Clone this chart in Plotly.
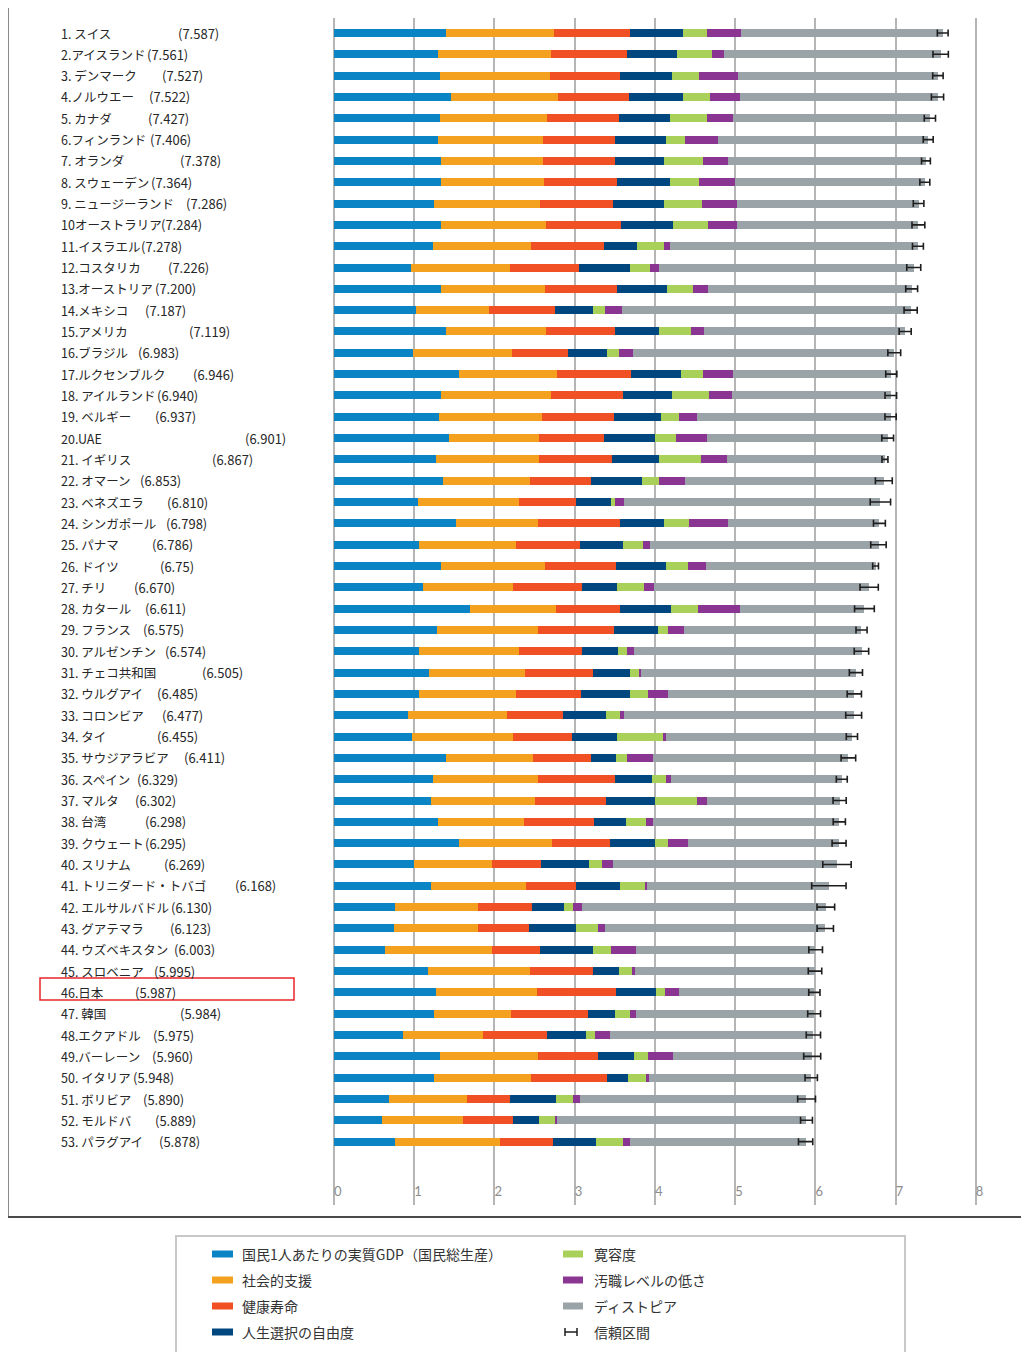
import plotly.graph_objects as go

# ---------------- data ----------------
labels = ["1. スイス", "2.アイスランド", "3. デンマーク", "4.ノルウエー", "5. カナダ",
          "6.フィンランド", "7. オランダ", "8. スウェーデン", "9. ニュージーランド", "10オーストラリア",
          "11.イスラエル", "12.コスタリカ", "13.オーストリア", "14.メキシコ", "15.アメリカ",
          "16.ブラジル", "17.ルクセンブルク", "18. アイルランド", "19. ベルギー", "20.UAE",
          "21. イギリス", "22. オマーン", "23. ベネズエラ", "24. シンガポール", "25. パナマ",
          "26. ドイツ", "27. チリ", "28. カタール", "29. フランス", "30. アルゼンチン",
          "31. チェコ共和国", "32. ウルグアイ", "33. コロンビア", "34. タイ", "35. サウジアラビア",
          "36. スペイン", "37. マルタ", "38. 台湾", "39. クウェート", "40. スリナム",
          "41. トリニダード・トバゴ", "42. エルサルバドル", "43. グアテマラ", "44. ウズベキスタン", "45. スロベニア",
          "46.日本", "47. 韓国", "48.エクアドル", "49.バーレーン", "50. イタリア",
          "51. ボリビア", "52. モルドバ", "53. パラグアイ"]

score_text = ["(7.587)", "(7.561)", "(7.527)", "(7.522)", "(7.427)", "(7.406)", "(7.378)", "(7.364)",
              "(7.286)", "(7.284)", "(7.278)", "(7.226)", "(7.200)", "(7.187)", "(7.119)", "(6.983)",
              "(6.946)", "(6.940)", "(6.937)", "(6.901)", "(6.867)", "(6.853)", "(6.810)", "(6.798)",
              "(6.786)", "(6.75)", "(6.670)", "(6.611)", "(6.575)", "(6.574)", "(6.505)", "(6.485)",
              "(6.477)", "(6.455)", "(6.411)", "(6.329)", "(6.302)", "(6.298)", "(6.295)", "(6.269)",
              "(6.168)", "(6.130)", "(6.123)", "(6.003)", "(5.995)", "(5.987)", "(5.984)", "(5.975)",
              "(5.960)", "(5.948)", "(5.890)", "(5.889)", "(5.878)"]

scores = [7.587, 7.561, 7.527, 7.522, 7.427, 7.406, 7.378, 7.364, 7.286, 7.284, 7.278, 7.226, 7.200,
          7.187, 7.119, 6.983, 6.946, 6.940, 6.937, 6.901, 6.867, 6.853, 6.810, 6.798, 6.786, 6.750,
          6.670, 6.611, 6.575, 6.574, 6.505, 6.485, 6.477, 6.455, 6.411, 6.329, 6.302, 6.298, 6.295,
          6.269, 6.168, 6.130, 6.123, 6.003, 5.995, 5.987, 5.984, 5.975, 5.960, 5.948, 5.890, 5.889, 5.878]

ci = [0.067, 0.096, 0.065, 0.076, 0.070, 0.062, 0.055, 0.062, 0.066, 0.080, 0.068, 0.087, 0.074,
      0.082, 0.075, 0.080, 0.069, 0.072, 0.070, 0.073, 0.037, 0.105, 0.127, 0.074, 0.096, 0.036,
      0.114, 0.123, 0.069, 0.090, 0.082, 0.089, 0.099, 0.070, 0.091, 0.068, 0.082, 0.076, 0.087,
      0.177, 0.214, 0.110, 0.102, 0.085, 0.084, 0.070, 0.080, 0.089, 0.106, 0.077, 0.111, 0.074, 0.089]

gdp = [1.397, 1.302, 1.325, 1.459, 1.326, 1.290, 1.329, 1.332, 1.250, 1.334, 1.229, 0.956, 1.337,
       1.021, 1.395, 0.981, 1.564, 1.336, 1.308, 1.427, 1.266, 1.360, 1.044, 1.522, 1.064, 1.328,
       1.107, 1.690, 1.278, 1.054, 1.179, 1.062, 0.919, 0.967, 1.395, 1.230, 1.207, 1.291, 1.554,
       0.995, 1.212, 0.765, 0.746, 0.632, 1.169, 1.271, 1.245, 0.864, 1.324, 1.251, 0.681, 0.594, 0.760]

social = [1.350, 1.402, 1.361, 1.331, 1.323, 1.318, 1.280, 1.289, 1.320, 1.309, 1.224, 1.238, 1.297,
          0.915, 1.247, 1.233, 1.220, 1.369, 1.286, 1.126, 1.285, 1.082, 1.256, 1.020, 1.199, 1.299,
          1.124, 1.079, 1.260, 1.248, 1.206, 1.209, 1.240, 1.265, 1.084, 1.314, 1.302, 1.076, 1.166,
          0.972, 1.184, 1.025, 1.044, 1.340, 1.270, 1.257, 0.958, 0.999, 1.216, 1.198, 0.978, 1.015, 1.305]

health = [0.941, 0.948, 0.875, 0.885, 0.906, 0.889, 0.893, 0.911, 0.908, 0.932, 0.914, 0.860, 0.890,
          0.814, 0.862, 0.697, 0.919, 0.895, 0.897, 0.809, 0.909, 0.763, 0.721, 1.025, 0.797, 0.892,
          0.859, 0.797, 0.946, 0.787, 0.845, 0.812, 0.691, 0.739, 0.720, 0.956, 0.887, 0.875, 0.725,
          0.608, 0.615, 0.677, 0.644, 0.598, 0.789, 0.991, 0.965, 0.791, 0.747, 0.954, 0.539, 0.618, 0.661]

freedom = [0.666, 0.629, 0.649, 0.670, 0.633, 0.642, 0.616, 0.660, 0.639, 0.651, 0.413, 0.634, 0.624,
           0.482, 0.546, 0.490, 0.616, 0.618, 0.585, 0.642, 0.596, 0.633, 0.429, 0.543, 0.542, 0.615,
           0.441, 0.640, 0.550, 0.450, 0.464, 0.604, 0.535, 0.557, 0.310, 0.460, 0.604, 0.397, 0.555,
           0.597, 0.559, 0.404, 0.577, 0.658, 0.318, 0.496, 0.332, 0.486, 0.455, 0.262, 0.574, 0.328, 0.539]

generosity = [0.297, 0.436, 0.341, 0.347, 0.458, 0.234, 0.476, 0.363, 0.475, 0.436, 0.332, 0.255, 0.331,
              0.141, 0.401, 0.146, 0.280, 0.459, 0.223, 0.264, 0.519, 0.215, 0.058, 0.311, 0.244, 0.282,
              0.334, 0.326, 0.123, 0.115, 0.107, 0.232, 0.184, 0.576, 0.137, 0.182, 0.518, 0.254, 0.162,
              0.170, 0.318, 0.107, 0.275, 0.228, 0.169, 0.107, 0.186, 0.115, 0.174, 0.228, 0.205, 0.210, 0.342]

corruption = [0.420, 0.141, 0.484, 0.365, 0.330, 0.414, 0.318, 0.438, 0.429, 0.356, 0.078, 0.106, 0.187,
              0.213, 0.159, 0.175, 0.378, 0.287, 0.225, 0.386, 0.321, 0.325, 0.111, 0.492, 0.093, 0.218,
              0.129, 0.522, 0.206, 0.085, 0.027, 0.246, 0.051, 0.032, 0.325, 0.064, 0.136, 0.081, 0.256,
              0.136, 0.011, 0.118, 0.095, 0.308, 0.034, 0.181, 0.079, 0.179, 0.306, 0.029, 0.088, 0.016, 0.082]

dystopia = [2.517, 2.702, 2.492, 2.465, 2.452, 2.620, 2.466, 2.371, 2.264, 2.266, 3.089, 3.177, 2.533,
            3.602, 2.510, 3.260, 1.970, 1.976, 2.415, 2.247, 1.970, 2.475, 3.191, 1.885, 2.848, 2.116,
            2.676, 1.557, 2.211, 2.836, 2.678, 2.321, 2.857, 2.319, 2.439, 2.124, 1.649, 2.323, 1.876,
            2.791, 2.269, 3.035, 2.743, 2.237, 2.246, 1.684, 2.220, 2.540, 1.738, 2.025, 2.823, 3.107, 2.189]

series_names = ["国民1人あたりの実質GDP（国民総生産）", "社会的支援", "健康寿命", "人生選択の自由度",
                "寛容度", "汚職レベルの低さ", "ディストピア"]
ci_name = "信頼区間"
x_ticks = [0, 1, 2, 3, 4, 5, 6, 7, 8]

# ---------------- layout / style ----------------
colors = ["#0b84c6", "#f4a11f", "#f05023", "#01477f", "#a9d15a", "#8a3592", "#9aa3a8"]

# horizontal screen position (px) where each score label starts
score_label_left_px = [176, 145, 160, 147, 146, 148, 178, 149, 184, 159, 139, 166, 153, 143, 187, 136,
                       191, 155, 153, 243, 210, 138, 165, 164, 150, 158, 132, 143, 141, 163, 200, 155,
                       160, 155, 182, 135, 133, 143, 143, 162, 233, 169, 168, 172, 152, 133, 178, 151,
                       150, 131, 141, 153, 157]

PAGE_OFF = 8                      # default body margin of the page
SCREEN_W, SCREEN_H = 1029, 1352
FIG_W, FIG_H = SCREEN_W - PAGE_OFF, SCREEN_H - PAGE_OFF
L_S, R_S, T_S, B_S = 330, 1024, 18, 1205      # plot area in screen pixels
W, H = R_S - L_S, B_S - T_S
X_RANGE = [-0.05, 8.6]
ROW0_S, ROW_STEP = 33, 21.32
Y_RANGE = [(B_S - ROW0_S) / ROW_STEP, -(ROW0_S - T_S) / ROW_STEP]

FONT = "Noto Sans CJK JP"
TXT = "#262626"


def px_x(p):
    return (p - L_S) / W


def px_y(p):
    return (B_S - p) / H


series_values = [gdp, social, health, freedom, generosity, corruption, dystopia]

fig = go.Figure()
for name, vals, col in zip(series_names, series_values, colors):
    fig.add_trace(go.Bar(
        x=vals, y=labels, orientation="h", name=name,
        marker=dict(color=col, line=dict(width=0)),
        showlegend=False,
    ))

fig.add_trace(go.Scatter(
    x=scores, y=labels, mode="markers", name=ci_name,
    marker=dict(size=2, color="rgba(0,0,0,0)"),
    error_x=dict(type="data", array=ci, symmetric=True, color="#1e1e1e", thickness=1.6, width=3.5),
    showlegend=False,
))

annotations = []
for lab, st, sx in zip(labels, score_text, score_label_left_px):
    annotations.append(dict(x=px_x(59), y=lab, xref="paper", yref="y", text=lab, showarrow=False,
                            xanchor="left", yanchor="middle", font=dict(family=FONT, size=12.5, color=TXT)))
    annotations.append(dict(x=px_x(sx), y=lab, xref="paper", yref="y", text=st, showarrow=False,
                            xanchor="left", yanchor="middle", font=dict(family=FONT, size=13, color=TXT)))

shapes = []
# outer frame
shapes.append(dict(type="line", xref="paper", yref="paper", x0=px_x(8.5), x1=px_x(8.5), y0=px_y(8), y1=px_y(1217),
                   line=dict(color="#8a8a8a", width=1)))
shapes.append(dict(type="line", xref="paper", yref="paper", x0=px_x(8), x1=px_x(1029), y0=px_y(1217), y1=px_y(1217),
                   line=dict(color="#4a4a4a", width=2)))
# highlight around Japan
jp = labels.index("46.日本")
shapes.append(dict(type="rect", xref="paper", yref="y", x0=px_x(40), x1=px_x(294), y0=jp - 0.68, y1=jp + 0.36,
                   line=dict(color="#e8262a", width=1.5), fillcolor="rgba(0,0,0,0)"))

# legend box
shapes.append(dict(type="rect", xref="paper", yref="paper", x0=px_x(176), x1=px_x(905), y0=px_y(1236), y1=px_y(1370),
                   line=dict(color="#c8c8c8", width=2), fillcolor="rgba(0,0,0,0)"))
legend_rows = [1254, 1280, 1306, 1332]
legend_items = [(series_names[0], colors[0], 0, 0), (series_names[1], colors[1], 0, 1),
                (series_names[2], colors[2], 0, 2), (series_names[3], colors[3], 0, 3),
                (series_names[4], colors[4], 1, 0), (series_names[5], colors[5], 1, 1),
                (series_names[6], colors[6], 1, 2)]
col_sw = [(212, 233, 240), (563, 583, 592)]
for name, col, c, r in legend_items:
    sx0, sx1, tx = col_sw[c]
    yy = legend_rows[r]
    shapes.append(dict(type="rect", xref="paper", yref="paper", x0=px_x(sx0), x1=px_x(sx1),
                       y0=px_y(yy + 3.5), y1=px_y(yy - 3.5), line=dict(width=0), fillcolor=col))
    annotations.append(dict(x=px_x(tx), y=px_y(yy), xref="paper", yref="paper", text=name, showarrow=False,
                            xanchor="left", yanchor="middle", font=dict(family=FONT, size=14, color="#333333")))
# CI legend symbol
yy = legend_rows[3]
for seg in [(565, 577, yy, yy), (565, 565, yy - 4, yy + 4), (577, 577, yy - 4, yy + 4)]:
    shapes.append(dict(type="line", xref="paper", yref="paper", x0=px_x(seg[0]), x1=px_x(seg[1]),
                       y0=px_y(seg[2]), y1=px_y(seg[3]), line=dict(color="#1e1e1e", width=1.5)))
annotations.append(dict(x=px_x(592), y=px_y(yy), xref="paper", yref="paper", text=ci_name, showarrow=False,
                        xanchor="left", yanchor="middle", font=dict(family=FONT, size=14, color="#333333")))

fig.update_layout(
    width=FIG_W, height=FIG_H,
    margin=dict(l=L_S - PAGE_OFF, r=FIG_W - (R_S - PAGE_OFF), t=T_S - PAGE_OFF, b=FIG_H - (B_S - PAGE_OFF), pad=0),
    barmode="stack", bargap=0.625,
    plot_bgcolor="white", paper_bgcolor="white",
    showlegend=False,
    xaxis=dict(range=X_RANGE, tickvals=x_ticks, ticktext=[str(v) for v in x_ticks],
               showgrid=True, gridcolor="#b5b5b5", gridwidth=1.6,
               zeroline=True, zerolinecolor="#b5b5b5", zerolinewidth=1.6,
               showline=False, ticks="", ticklabelposition="inside right",
               tickfont=dict(family="Lato", size=13, color="#8c8c8c")),
    yaxis=dict(range=Y_RANGE, showticklabels=False, showgrid=False, zeroline=False, showline=False, ticks=""),
    annotations=annotations, shapes=shapes,
)

fig.write_html("out.html")
